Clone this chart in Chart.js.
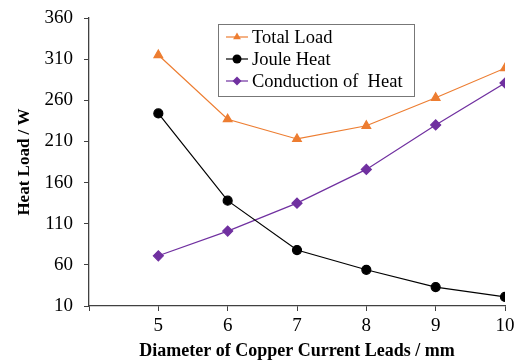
<!DOCTYPE html>
<html>
<head>
<meta charset="utf-8">
<script src="https://cdn.jsdelivr.net/npm/chart.js@4/dist/chart.umd.min.js"></script>
<style>
  html, body { margin: 0; padding: 0; background: #fff; }
  #wrap { width: 518px; height: 362px; }
</style>
</head>
<body>
<div id="wrap"><canvas id="heatChart" width="518" height="362"></canvas></div>
<script>
// Data
const diameters = [5, 6, 7, 8, 9, 10];
const totalLoad = [315, 237, 213, 229, 263, 299];
const jouleHeat = [244, 138, 78, 54, 33, 21];
const conductionHeat = [71, 101, 135, 176, 230, 281];
const yTicks = [10, 60, 110, 160, 210, 260, 310, 360];

const seriesNames = ['Total Load', 'Joule Heat', 'Conduction of  Heat'];
const seriesColors = ['#ED7D31', '#000000', '#7030A0'];
const seriesMarkers = ['triangle', 'circle', 'rectRot'];
const seriesValues = [totalLoad, jouleHeat, conductionHeat];

const serif = '"Liberation Serif", "Times New Roman", serif';

const datasets = seriesValues.map((vals, i) => ({
    label: seriesNames[i],
    data: vals.map((v, j) => ({ x: diameters[j], y: v })),
    borderColor: seriesColors[i],
    backgroundColor: seriesColors[i],
    pointStyle: seriesMarkers[i],
    pointRadius: i === 1 ? 4.5 : 5,
    borderWidth: 1.2,
    tension: 0
}));

// legend box with line + marker samples, drawn inside the plot
const boxLegend = {
    id: 'boxLegend',
    afterDraw(chart) {
        const ctx = chart.ctx;
        const x0 = 218, y0 = 24, w = 196, h = 72;
        ctx.save();
        ctx.fillStyle = '#fff';
        ctx.fillRect(x0, y0, w, h);
        ctx.strokeStyle = '#777';
        ctx.lineWidth = 1;
        ctx.strokeRect(x0 + 0.5, y0 + 0.5, w, h);
        ctx.font = '18.5px ' + serif;
        ctx.textBaseline = 'middle';
        chart.data.datasets.forEach((ds, i) => {
            const cy = y0 + 13 + i * 22;
            ctx.strokeStyle = ds.borderColor;
            ctx.lineWidth = 1.2;
            ctx.beginPath();
            ctx.moveTo(x0 + 8, cy);
            ctx.lineTo(x0 + 30, cy);
            ctx.stroke();
            ctx.fillStyle = ds.backgroundColor;
            Chart.helpers.drawPoint(ctx, { pointStyle: ds.pointStyle, radius: 4.5, borderWidth: 0 }, x0 + 19, cy);
            ctx.fillStyle = '#000';
            ctx.fillText(ds.label, x0 + 34, cy + 1);
        });
        ctx.restore();
    }
};

new Chart(document.getElementById('heatChart').getContext('2d'), {
    type: 'line',
    data: { datasets: datasets },
    options: {
        responsive: false,
        animation: false,
        layout: { padding: { top: 18, right: 13, left: 0, bottom: 0 } },
        plugins: {
            legend: { display: false },
            tooltip: { enabled: false }
        },
        scales: {
            x: {
                type: 'linear',
                min: 4,
                max: 10,
                afterFit(scale) {
                    scale.height = 56;
                    scale.paddingLeft = 0;
                    scale.paddingRight = 0;
                },
                afterBuildTicks(scale) {
                    scale.ticks = [4].concat(diameters).map(v => ({ value: v }));
                },
                ticks: {
                    color: '#000',
                    font: { family: serif, size: 19 },
                    padding: 4,
                    maxRotation: 0,
                    callback: v => (v === 4 ? '' : v)
                },
                grid: { drawOnChartArea: false, drawTicks: true, tickLength: 5, color: '#404040' },
                border: { color: '#404040', width: 1.3 },
                title: {
                    display: true,
                    text: 'Diameter of Copper Current Leads / mm',
                    color: '#000',
                    font: { family: serif, size: 18, weight: 'bold' },
                    padding: { top: 0, bottom: 0 }
                }
            },
            y: {
                min: 10,
                max: 360,
                afterFit(scale) {
                    scale.width = 89;
                    scale.paddingTop = 0;
                    scale.paddingBottom = 0;
                },
                afterBuildTicks(scale) {
                    scale.ticks = yTicks.map(v => ({ value: v }));
                },
                ticks: {
                    color: '#000',
                    font: { family: serif, size: 19 },
                    padding: 11
                },
                grid: { drawOnChartArea: false, drawTicks: true, tickLength: 5, color: '#404040' },
                border: { color: '#404040', width: 1.3 },
                title: {
                    display: true,
                    text: 'Heat Load / W',
                    color: '#000',
                    font: { family: serif, size: 17, weight: 'bold' },
                    padding: { top: 14, bottom: 0 }
                }
            }
        }
    },
    plugins: [boxLegend]
});
</script>
</body>
</html>
